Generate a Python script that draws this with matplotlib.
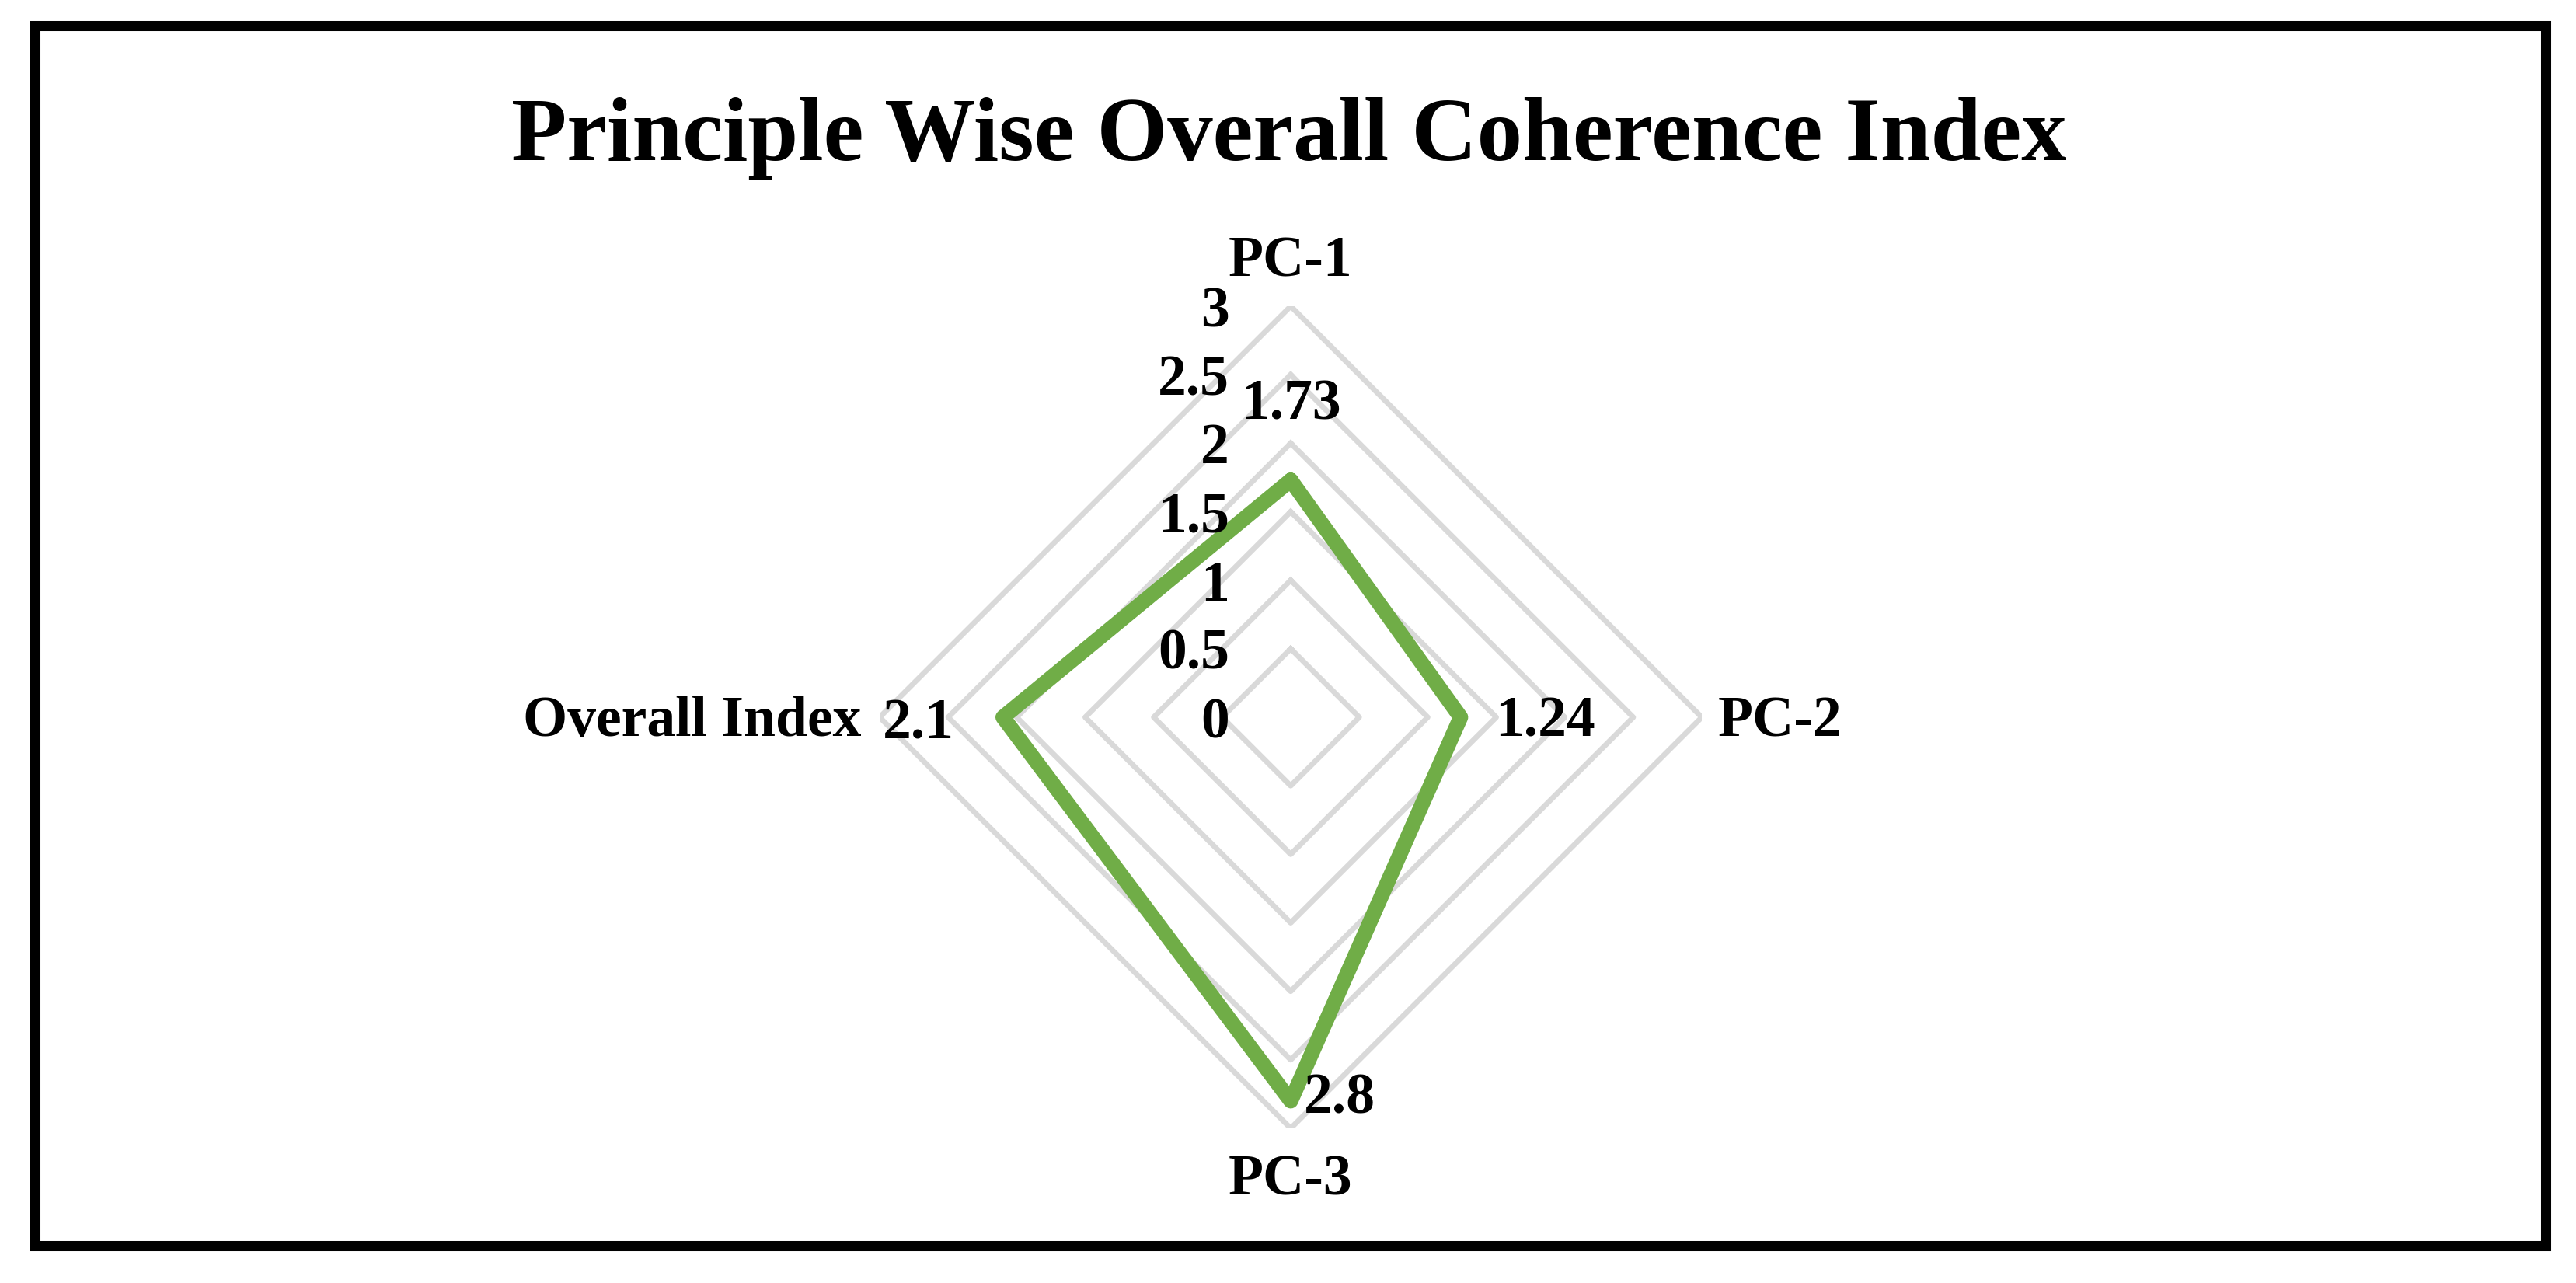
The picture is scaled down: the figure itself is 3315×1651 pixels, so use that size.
import numpy as np
import matplotlib
matplotlib.use("Agg")
import matplotlib.pyplot as plt
from matplotlib.patches import Rectangle

plt.rcParams["font.family"] = ["Liberation Serif", "DejaVu Serif"]
plt.rcParams["font.weight"] = "bold"

categories = ["PC-1", "PC-2", "PC-3", "Overall Index"]
values = [1.73, 1.24, 2.8, 2.1]
value_labels = ["1.73", "1.24", "2.8", "2.1"]
ring_values = [0, 0.5, 1, 1.5, 2, 2.5, 3]
ring_labels = ["0", "0.5", "1", "1.5", "2", "2.5", "3"]

W, H, DPI = 3315, 1651, 100
fig = plt.figure(figsize=(W / DPI, H / DPI), dpi=DPI)

# outer frame
fig.patches.append(Rectangle((45 / W, 1 - 1603 / H), (3276 - 45) / W, (1603 - 33) / H,
                             transform=fig.transFigure, fill=False, edgecolor="black",
                             linewidth=9.4, joinstyle="miter"))

fig.text(1659 / W, 1 - 206 / H, "Principle Wise Overall Coherence Index",
         ha="center", va="baseline", fontsize=84, fontweight="bold")

cx, cy, rad = 1661, 923, 529
ax = fig.add_axes([(cx - rad) / W, (H - cy - rad) / H, 2 * rad / W, 2 * rad / H],
                  projection="polar")
ax.set_theta_offset(np.pi / 2)
ax.set_theta_direction(-1)
ax.set_ylim(0, 3)
ax.axis("off")

angles = np.linspace(0, 2 * np.pi, len(categories), endpoint=False)
closed = np.append(angles, angles[0])

for r in ring_values[1:]:
    ax.plot(closed, [r] * len(closed), color="#D9D9D9", lw=5, zorder=1)

ax.plot(closed, values + values[:1], color="#70AD47", lw=14,
        solid_joinstyle="round", solid_capstyle="round", zorder=3)

# ring labels along the top spoke
for r, lab in zip(ring_values, ring_labels):
    ax.annotate(lab, xy=(0, r), xytext=(-79, -26), textcoords="offset pixels",
                ha="right", va="baseline", fontsize=53, fontweight="bold")

# category labels
cat_offsets = [(0, 39, "center"), (21, -24, "left"), (0, -86, "center"), (-24, -24, "right")]
for a, lab, (dx, dy, ha) in zip(angles, categories, cat_offsets):
    ax.annotate(lab, xy=(a, 3), xytext=(dx, dy), textcoords="offset pixels",
                ha=ha, va="baseline", fontsize=53, fontweight="bold")

# data labels
val_offsets = [(0, 78, "center"), (44, -24, "left"), (17, -16, "left"), (-63, -27, "right")]
for a, v, lab, (dx, dy, ha) in zip(angles, values, value_labels, val_offsets):
    ax.annotate(lab, xy=(a, v), xytext=(dx, dy), textcoords="offset pixels",
                ha=ha, va="baseline", fontsize=53, fontweight="bold", zorder=4)

fig.savefig("out.png", dpi=DPI, facecolor="white")
